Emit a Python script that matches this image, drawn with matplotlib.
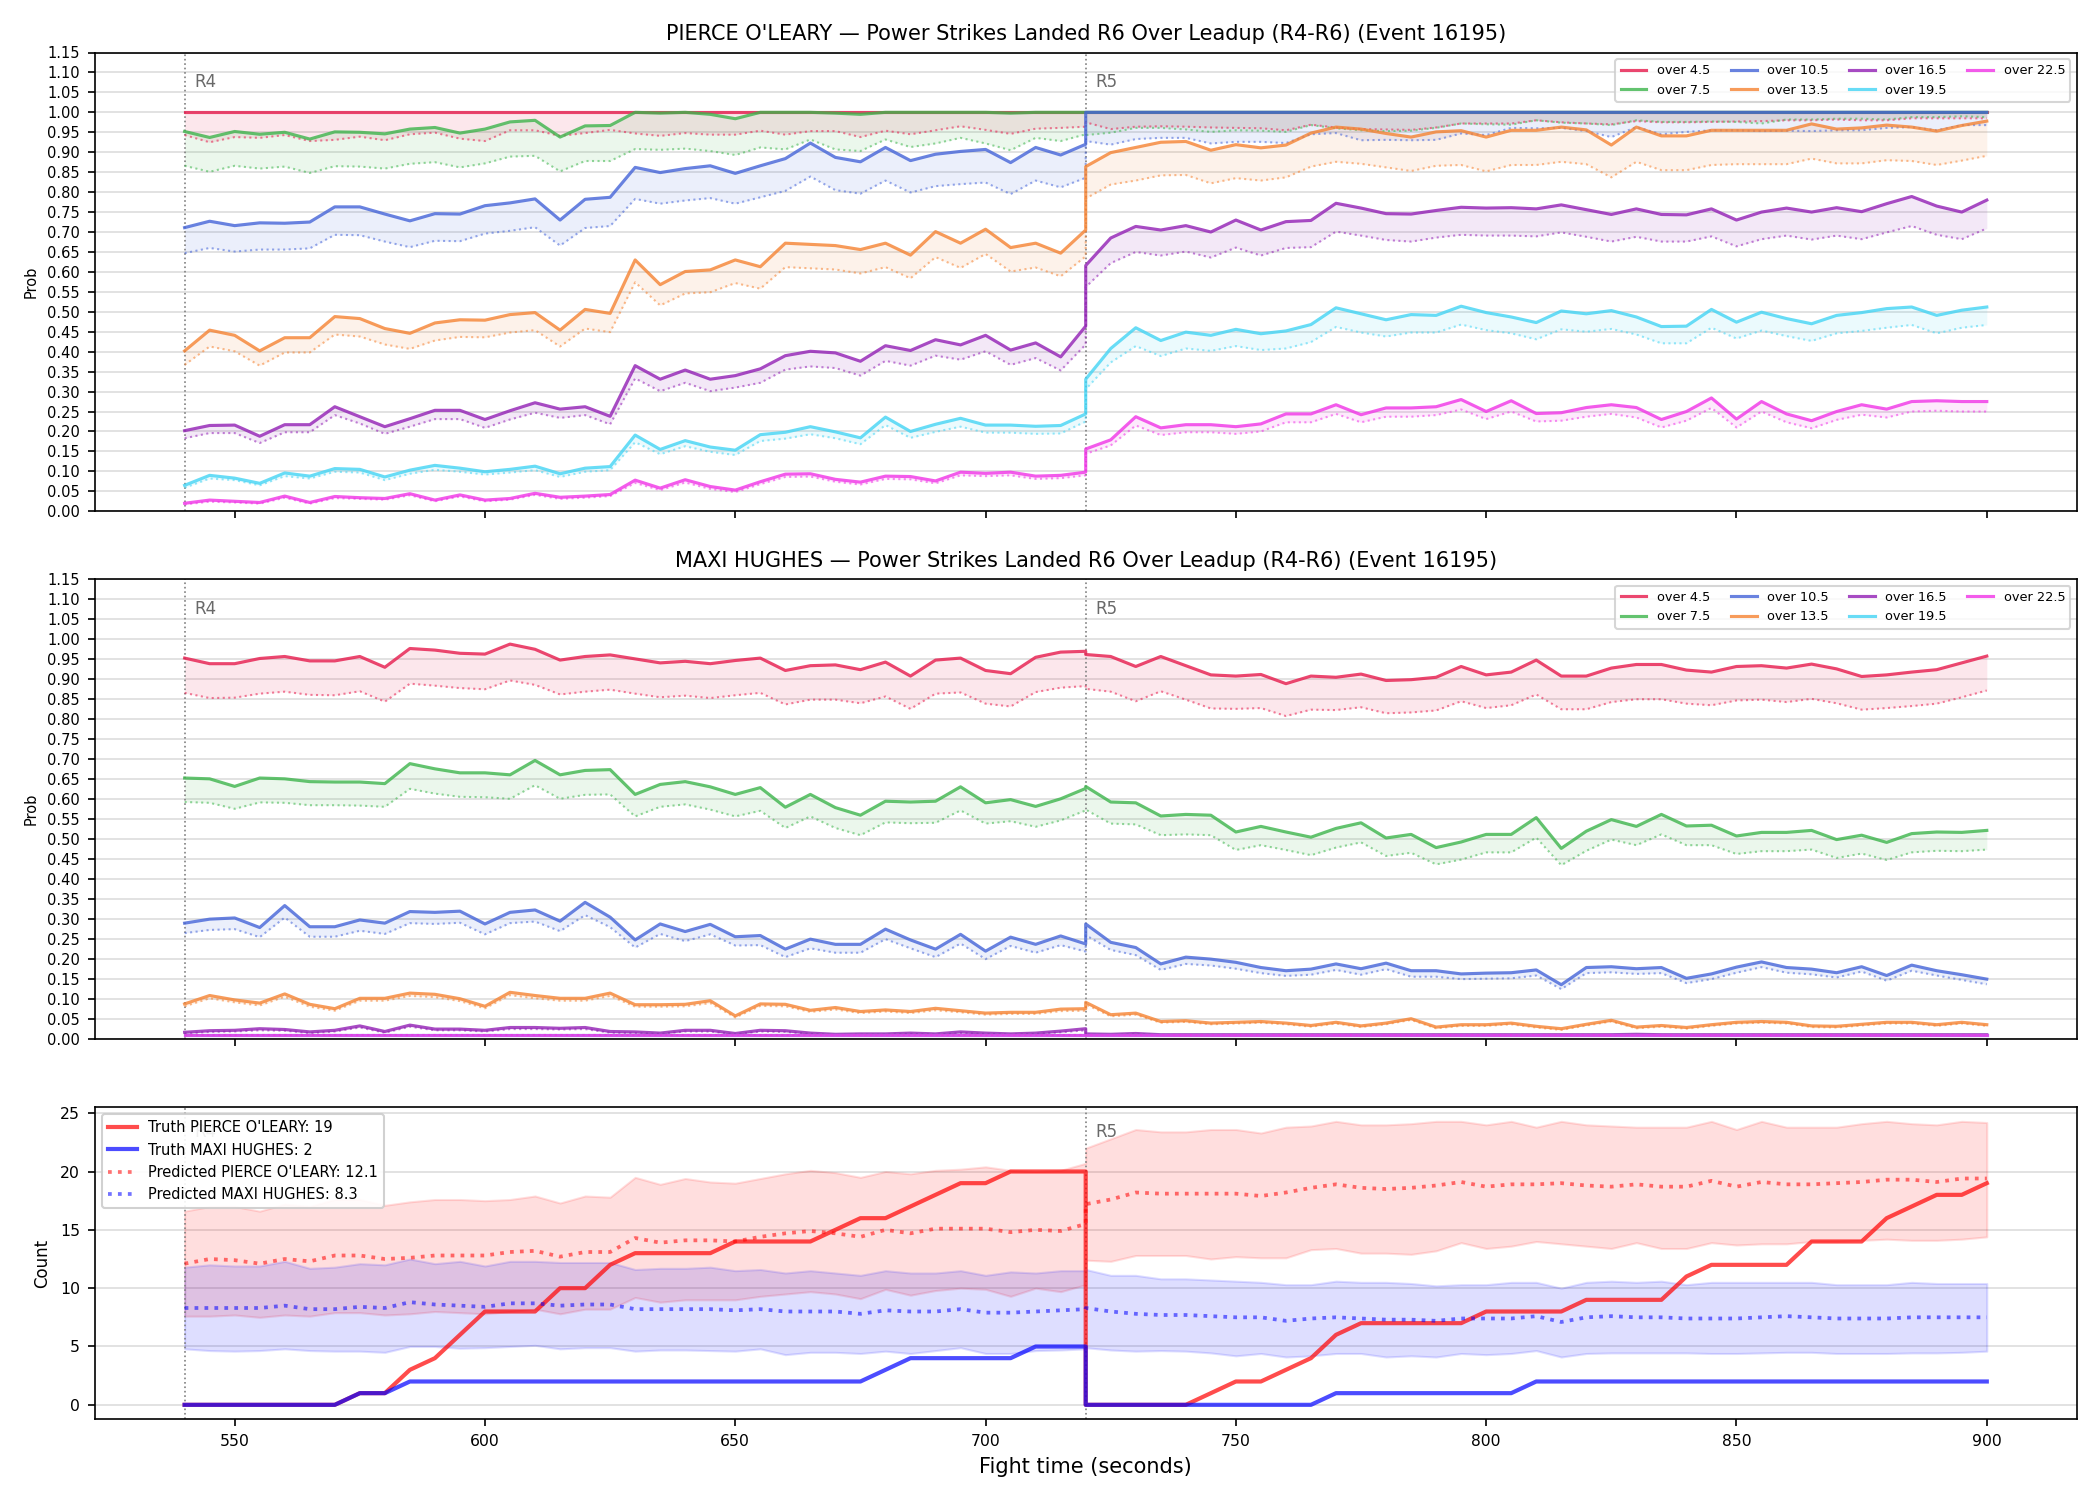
import numpy as np
import matplotlib
matplotlib.use("Agg")
import matplotlib.pyplot as plt

# fight time: round 4 (540-720) and round 5 (720-900), 720 appears twice
t = np.r_[np.arange(540, 721, 5), np.arange(720, 901, 5)]

THRESHOLDS = ["4.5", "7.5", "10.5", "13.5", "16.5", "19.5", "22.5"]
COLORS = ["#e6194B", "#3cb44b", "#4363d8", "#f58231", "#911eb4", "#42d4f4", "#f032e6"]

# ---- PIERCE O'LEARY: solid line (model) and dotted line (lower) per threshold
po_45 = [
    1.0, 1.0, 1.0, 1.0, 1.0, 1.0, 1.0, 1.0, 1.0, 1.0, 1.0, 1.0, 1.0, 1.0, 1.0, 1.0, 1.0, 1.0, 1.0,
    1.0, 1.0, 1.0, 1.0, 1.0, 1.0, 1.0, 1.0, 1.0, 1.0, 1.0, 1.0, 1.0, 1.0, 1.0, 1.0, 1.0, 1.0,
    1.0, 1.0, 1.0, 1.0, 1.0, 1.0, 1.0, 1.0, 1.0, 1.0, 1.0, 1.0, 1.0, 1.0, 1.0, 1.0, 1.0, 1.0, 1.0,
    1.0, 1.0, 1.0, 1.0, 1.0, 1.0, 1.0, 1.0, 1.0, 1.0, 1.0, 1.0, 1.0, 1.0, 1.0, 1.0, 1.0, 1.0]
po_45_lo = [
    0.943, 0.925, 0.938, 0.936, 0.943, 0.928, 0.931, 0.939, 0.930, 0.945, 0.949, 0.934, 0.928,
    0.955, 0.955, 0.941, 0.948, 0.956, 0.947, 0.941, 0.948, 0.944, 0.944, 0.954, 0.944, 0.953,
    0.953, 0.938, 0.954, 0.945, 0.955, 0.965, 0.956, 0.946, 0.959, 0.961, 0.964,
    0.975, 0.958, 0.964, 0.965, 0.964, 0.962, 0.961, 0.960, 0.955, 0.969, 0.962, 0.958, 0.957,
    0.956, 0.962, 0.972, 0.972, 0.972, 0.980, 0.975, 0.972, 0.970, 0.978, 0.975, 0.975, 0.976,
    0.977, 0.978, 0.980, 0.980, 0.982, 0.980, 0.980, 0.985, 0.985, 0.985, 0.985]
po_75 = [
    0.952, 0.937, 0.952, 0.945, 0.950, 0.933, 0.951, 0.950, 0.946, 0.958, 0.962, 0.948, 0.958,
    0.976, 0.980, 0.938, 0.966, 0.967, 1.000, 0.998, 1.000, 0.995, 0.984, 1.000, 1.000, 1.000,
    0.998, 0.995, 1.000, 1.000, 1.000, 1.000, 1.000, 0.998, 1.000, 1.000, 1.000,
    1.0, 1.0, 1.0, 1.0, 1.0, 1.0, 1.0, 1.0, 1.0, 1.0, 1.0, 1.0, 1.0, 1.0, 1.0, 1.0, 1.0, 1.0, 1.0,
    1.0, 1.0, 1.0, 1.0, 1.0, 1.0, 1.0, 1.0, 1.0, 1.0, 1.0, 1.0, 1.0, 1.0, 1.0, 1.0, 1.0, 1.0]
po_75_lo = [
    0.866, 0.851, 0.866, 0.859, 0.864, 0.848, 0.865, 0.864, 0.859, 0.871, 0.875, 0.862, 0.872,
    0.889, 0.891, 0.852, 0.878, 0.878, 0.908, 0.906, 0.909, 0.903, 0.893, 0.912, 0.907, 0.932,
    0.907, 0.903, 0.932, 0.913, 0.922, 0.936, 0.922, 0.905, 0.936, 0.928, 0.945,
    0.943, 0.949, 0.961, 0.961, 0.957, 0.951, 0.955, 0.954, 0.951, 0.968, 0.960, 0.955, 0.953,
    0.954, 0.961, 0.972, 0.970, 0.969, 0.980, 0.974, 0.972, 0.968, 0.980, 0.976, 0.976, 0.977,
    0.976, 0.972, 0.982, 0.982, 0.984, 0.984, 0.982, 0.988, 0.988, 0.990, 0.988]
po_105 = [
    0.711, 0.727, 0.716, 0.723, 0.722, 0.725, 0.763, 0.763, 0.745, 0.728, 0.746, 0.745, 0.766,
    0.773, 0.783, 0.730, 0.782, 0.787, 0.862, 0.849, 0.859, 0.866, 0.847, 0.866, 0.884, 0.923,
    0.887, 0.876, 0.912, 0.879, 0.895, 0.902, 0.907, 0.874, 0.912, 0.893, 0.920,
    1.0, 1.0, 1.0, 1.0, 1.0, 1.0, 1.0, 1.0, 1.0, 1.0, 1.0, 1.0, 1.0, 1.0, 1.0, 1.0, 1.0, 1.0, 1.0,
    1.0, 1.0, 1.0, 1.0, 1.0, 1.0, 1.0, 1.0, 1.0, 1.0, 1.0, 1.0, 1.0, 1.0, 1.0, 1.0, 1.0, 1.0]
po_105_lo = [
    0.647, 0.660, 0.651, 0.656, 0.656, 0.659, 0.693, 0.692, 0.676, 0.662, 0.678, 0.677, 0.696,
    0.703, 0.712, 0.666, 0.710, 0.715, 0.783, 0.771, 0.779, 0.785, 0.771, 0.787, 0.803, 0.839,
    0.805, 0.796, 0.829, 0.799, 0.815, 0.820, 0.824, 0.795, 0.829, 0.812, 0.836,
    0.928, 0.919, 0.933, 0.936, 0.936, 0.922, 0.926, 0.926, 0.923, 0.945, 0.948, 0.930, 0.931,
    0.930, 0.931, 0.947, 0.943, 0.961, 0.960, 0.961, 0.953, 0.938, 0.963, 0.945, 0.951, 0.955,
    0.955, 0.953, 0.954, 0.953, 0.955, 0.955, 0.961, 0.963, 0.955, 0.968, 0.968]
po_135 = [
    0.402, 0.454, 0.441, 0.402, 0.435, 0.435, 0.488, 0.483, 0.458, 0.446, 0.472, 0.480, 0.479,
    0.493, 0.498, 0.454, 0.506, 0.496, 0.630, 0.568, 0.601, 0.605, 0.630, 0.613, 0.672, 0.669,
    0.666, 0.656, 0.672, 0.642, 0.701, 0.672, 0.707, 0.661, 0.672, 0.647, 0.705,
    0.864, 0.899, 0.912, 0.925, 0.927, 0.905, 0.919, 0.911, 0.918, 0.948, 0.963, 0.958, 0.947,
    0.938, 0.951, 0.954, 0.938, 0.955, 0.955, 0.963, 0.956, 0.918, 0.963, 0.941, 0.941, 0.955,
    0.955, 0.955, 0.955, 0.971, 0.958, 0.961, 0.968, 0.963, 0.953, 0.967, 0.978]
po_135_lo = [
    0.367, 0.413, 0.401, 0.365, 0.398, 0.398, 0.443, 0.438, 0.418, 0.407, 0.428, 0.437, 0.436,
    0.448, 0.454, 0.413, 0.458, 0.449, 0.574, 0.516, 0.546, 0.549, 0.572, 0.558, 0.612, 0.609,
    0.606, 0.596, 0.612, 0.584, 0.637, 0.610, 0.645, 0.601, 0.611, 0.589, 0.639,
    0.784, 0.819, 0.829, 0.842, 0.843, 0.822, 0.835, 0.829, 0.837, 0.864, 0.876, 0.871, 0.862,
    0.853, 0.866, 0.868, 0.852, 0.868, 0.868, 0.876, 0.870, 0.837, 0.876, 0.855, 0.855, 0.868,
    0.870, 0.870, 0.870, 0.884, 0.872, 0.872, 0.880, 0.878, 0.868, 0.879, 0.891]
po_165 = [
    0.202, 0.215, 0.216, 0.188, 0.217, 0.217, 0.262, 0.237, 0.212, 0.232, 0.253, 0.253, 0.230,
    0.252, 0.272, 0.256, 0.262, 0.238, 0.365, 0.331, 0.354, 0.331, 0.340, 0.357, 0.390, 0.401,
    0.397, 0.376, 0.415, 0.403, 0.430, 0.417, 0.441, 0.404, 0.422, 0.387, 0.464,
    0.616, 0.685, 0.714, 0.705, 0.716, 0.700, 0.730, 0.705, 0.726, 0.729, 0.772, 0.760, 0.746,
    0.745, 0.754, 0.762, 0.760, 0.761, 0.758, 0.768, 0.756, 0.744, 0.758, 0.744, 0.743, 0.758,
    0.730, 0.750, 0.760, 0.750, 0.761, 0.751, 0.771, 0.789, 0.765, 0.750, 0.780]
po_165_lo = [
    0.183, 0.196, 0.196, 0.171, 0.198, 0.198, 0.241, 0.220, 0.194, 0.212, 0.231, 0.231, 0.209,
    0.230, 0.247, 0.234, 0.241, 0.218, 0.333, 0.301, 0.322, 0.301, 0.310, 0.322, 0.355, 0.363,
    0.359, 0.340, 0.377, 0.365, 0.390, 0.380, 0.401, 0.367, 0.384, 0.353, 0.418,
    0.562, 0.622, 0.650, 0.641, 0.651, 0.636, 0.661, 0.641, 0.660, 0.662, 0.701, 0.691, 0.680,
    0.676, 0.686, 0.693, 0.691, 0.691, 0.689, 0.699, 0.688, 0.676, 0.688, 0.676, 0.676, 0.689,
    0.664, 0.682, 0.691, 0.681, 0.691, 0.682, 0.699, 0.715, 0.693, 0.682, 0.709]
po_195 = [
    0.065, 0.090, 0.083, 0.070, 0.096, 0.088, 0.107, 0.105, 0.086, 0.103, 0.115, 0.108, 0.099,
    0.105, 0.113, 0.094, 0.108, 0.112, 0.191, 0.155, 0.177, 0.161, 0.153, 0.192, 0.198, 0.212,
    0.199, 0.184, 0.236, 0.200, 0.218, 0.233, 0.216, 0.216, 0.213, 0.215, 0.244,
    0.331, 0.408, 0.460, 0.428, 0.449, 0.441, 0.456, 0.445, 0.452, 0.468, 0.510, 0.495, 0.480,
    0.493, 0.491, 0.514, 0.498, 0.487, 0.473, 0.502, 0.495, 0.503, 0.487, 0.463, 0.464, 0.506,
    0.474, 0.499, 0.483, 0.470, 0.491, 0.498, 0.508, 0.512, 0.491, 0.504, 0.512]
po_195_lo = [
    0.059, 0.082, 0.078, 0.065, 0.088, 0.082, 0.099, 0.097, 0.078, 0.094, 0.104, 0.099, 0.092,
    0.097, 0.103, 0.086, 0.099, 0.103, 0.173, 0.143, 0.163, 0.149, 0.141, 0.176, 0.182, 0.193,
    0.183, 0.168, 0.216, 0.184, 0.199, 0.212, 0.197, 0.197, 0.194, 0.195, 0.225,
    0.306, 0.373, 0.414, 0.389, 0.408, 0.402, 0.414, 0.404, 0.408, 0.424, 0.462, 0.448, 0.438,
    0.448, 0.448, 0.468, 0.454, 0.446, 0.431, 0.456, 0.450, 0.457, 0.443, 0.421, 0.421, 0.460,
    0.433, 0.453, 0.439, 0.427, 0.446, 0.452, 0.460, 0.467, 0.446, 0.460, 0.467]
po_225 = [
    0.020, 0.028, 0.025, 0.022, 0.038, 0.022, 0.037, 0.034, 0.032, 0.044, 0.028, 0.041, 0.028,
    0.032, 0.045, 0.035, 0.038, 0.042, 0.078, 0.058, 0.079, 0.062, 0.053, 0.074, 0.093, 0.094,
    0.080, 0.073, 0.088, 0.087, 0.076, 0.098, 0.095, 0.098, 0.088, 0.090, 0.098,
    0.156, 0.179, 0.237, 0.209, 0.217, 0.217, 0.212, 0.219, 0.244, 0.244, 0.267, 0.242, 0.259,
    0.259, 0.262, 0.280, 0.250, 0.277, 0.245, 0.247, 0.260, 0.267, 0.260, 0.230, 0.250, 0.284,
    0.231, 0.275, 0.244, 0.227, 0.250, 0.267, 0.256, 0.275, 0.277, 0.275, 0.275]
po_225_lo = [
    0.017, 0.024, 0.022, 0.019, 0.034, 0.019, 0.033, 0.031, 0.029, 0.040, 0.025, 0.037, 0.025,
    0.029, 0.041, 0.031, 0.034, 0.038, 0.071, 0.053, 0.072, 0.056, 0.048, 0.068, 0.086, 0.087,
    0.074, 0.067, 0.081, 0.080, 0.070, 0.090, 0.088, 0.090, 0.081, 0.083, 0.090,
    0.144, 0.165, 0.215, 0.191, 0.198, 0.198, 0.194, 0.200, 0.223, 0.223, 0.244, 0.223, 0.237,
    0.237, 0.241, 0.255, 0.231, 0.250, 0.225, 0.227, 0.237, 0.244, 0.235, 0.210, 0.227, 0.259,
    0.210, 0.250, 0.223, 0.208, 0.229, 0.242, 0.235, 0.250, 0.252, 0.250, 0.250]

# ---- MAXI HUGHES
mh_45 = [
    0.953, 0.939, 0.939, 0.952, 0.957, 0.946, 0.946, 0.957, 0.930, 0.977, 0.973, 0.965, 0.963,
    0.988, 0.975, 0.948, 0.957, 0.961, 0.951, 0.941, 0.945, 0.939, 0.947, 0.953, 0.922, 0.934,
    0.936, 0.924, 0.943, 0.908, 0.948, 0.953, 0.922, 0.914, 0.955, 0.968, 0.970,
    0.962, 0.957, 0.932, 0.957, 0.934, 0.911, 0.908, 0.912, 0.889, 0.908, 0.905, 0.913, 0.897,
    0.899, 0.905, 0.932, 0.911, 0.918, 0.948, 0.908, 0.908, 0.928, 0.937, 0.937, 0.923, 0.918,
    0.932, 0.934, 0.928, 0.938, 0.926, 0.907, 0.911, 0.918, 0.924, 0.941, 0.958]
mh_45_lo = [
    0.866, 0.853, 0.854, 0.864, 0.869, 0.861, 0.860, 0.870, 0.844, 0.889, 0.884, 0.878, 0.875,
    0.897, 0.886, 0.862, 0.869, 0.874, 0.864, 0.855, 0.859, 0.853, 0.860, 0.866, 0.837, 0.849,
    0.849, 0.840, 0.857, 0.826, 0.864, 0.867, 0.839, 0.832, 0.868, 0.879, 0.883,
    0.876, 0.869, 0.845, 0.870, 0.849, 0.827, 0.826, 0.828, 0.808, 0.824, 0.823, 0.830, 0.815,
    0.817, 0.822, 0.845, 0.828, 0.835, 0.862, 0.825, 0.825, 0.843, 0.850, 0.850, 0.839, 0.835,
    0.847, 0.849, 0.843, 0.851, 0.840, 0.824, 0.828, 0.833, 0.839, 0.855, 0.872]
mh_75 = [
    0.653, 0.651, 0.632, 0.653, 0.651, 0.644, 0.643, 0.643, 0.639, 0.689, 0.676, 0.666, 0.666,
    0.661, 0.697, 0.661, 0.672, 0.674, 0.612, 0.637, 0.644, 0.631, 0.612, 0.629, 0.580, 0.612,
    0.579, 0.560, 0.595, 0.593, 0.595, 0.631, 0.591, 0.599, 0.582, 0.601, 0.627,
    0.632, 0.593, 0.591, 0.558, 0.562, 0.560, 0.518, 0.532, 0.518, 0.505, 0.527, 0.541, 0.503,
    0.512, 0.479, 0.493, 0.512, 0.512, 0.554, 0.477, 0.520, 0.549, 0.532, 0.562, 0.533, 0.535,
    0.508, 0.517, 0.517, 0.522, 0.499, 0.510, 0.492, 0.514, 0.518, 0.517, 0.522]
mh_75_lo = [
    0.593, 0.591, 0.576, 0.592, 0.591, 0.585, 0.585, 0.584, 0.581, 0.626, 0.614, 0.606, 0.605,
    0.601, 0.635, 0.601, 0.611, 0.612, 0.557, 0.581, 0.587, 0.574, 0.557, 0.571, 0.528, 0.557,
    0.528, 0.510, 0.542, 0.540, 0.541, 0.572, 0.539, 0.545, 0.531, 0.547, 0.572,
    0.574, 0.539, 0.537, 0.510, 0.512, 0.510, 0.473, 0.485, 0.473, 0.460, 0.479, 0.492, 0.458,
    0.466, 0.437, 0.449, 0.467, 0.467, 0.504, 0.435, 0.471, 0.499, 0.485, 0.512, 0.485, 0.485,
    0.463, 0.470, 0.470, 0.474, 0.453, 0.464, 0.448, 0.467, 0.471, 0.470, 0.474]
mh_105 = [
    0.290, 0.300, 0.303, 0.279, 0.334, 0.281, 0.281, 0.298, 0.290, 0.319, 0.317, 0.320, 0.288,
    0.317, 0.323, 0.295, 0.342, 0.305, 0.248, 0.288, 0.269, 0.287, 0.256, 0.259, 0.225, 0.250,
    0.237, 0.237, 0.275, 0.248, 0.225, 0.262, 0.220, 0.255, 0.237, 0.258, 0.238,
    0.288, 0.242, 0.229, 0.188, 0.205, 0.200, 0.192, 0.179, 0.171, 0.175, 0.188, 0.176, 0.190,
    0.171, 0.171, 0.163, 0.165, 0.166, 0.173, 0.136, 0.179, 0.181, 0.176, 0.179, 0.152, 0.163,
    0.180, 0.193, 0.179, 0.175, 0.166, 0.181, 0.159, 0.185, 0.171, 0.161, 0.150]
mh_105_lo = [
    0.265, 0.273, 0.275, 0.255, 0.304, 0.256, 0.256, 0.271, 0.263, 0.290, 0.288, 0.291, 0.262,
    0.290, 0.294, 0.270, 0.310, 0.280, 0.229, 0.263, 0.245, 0.262, 0.234, 0.235, 0.205, 0.227,
    0.216, 0.216, 0.250, 0.227, 0.205, 0.239, 0.200, 0.233, 0.216, 0.235, 0.219,
    0.260, 0.223, 0.210, 0.173, 0.188, 0.184, 0.176, 0.165, 0.158, 0.161, 0.173, 0.161, 0.175,
    0.156, 0.156, 0.150, 0.151, 0.152, 0.159, 0.125, 0.165, 0.167, 0.163, 0.165, 0.140, 0.150,
    0.166, 0.180, 0.166, 0.162, 0.154, 0.169, 0.146, 0.171, 0.159, 0.148, 0.137]
mh_135 = [
    0.088, 0.109, 0.098, 0.090, 0.113, 0.087, 0.076, 0.102, 0.102, 0.115, 0.112, 0.101, 0.082,
    0.117, 0.109, 0.102, 0.102, 0.115, 0.086, 0.086, 0.087, 0.096, 0.058, 0.088, 0.087, 0.072,
    0.079, 0.069, 0.073, 0.069, 0.077, 0.071, 0.065, 0.067, 0.067, 0.075, 0.076,
    0.092, 0.061, 0.065, 0.044, 0.046, 0.040, 0.042, 0.044, 0.040, 0.034, 0.042, 0.033, 0.040,
    0.051, 0.030, 0.036, 0.036, 0.040, 0.032, 0.026, 0.037, 0.047, 0.030, 0.034, 0.029, 0.036,
    0.042, 0.044, 0.042, 0.033, 0.032, 0.037, 0.042, 0.042, 0.036, 0.042, 0.036]
mh_135_lo = [
    0.082, 0.102, 0.092, 0.084, 0.106, 0.081, 0.071, 0.096, 0.096, 0.108, 0.105, 0.095, 0.077,
    0.110, 0.102, 0.096, 0.096, 0.108, 0.081, 0.081, 0.082, 0.090, 0.054, 0.083, 0.082, 0.068,
    0.074, 0.065, 0.069, 0.065, 0.072, 0.067, 0.061, 0.063, 0.063, 0.070, 0.071,
    0.087, 0.057, 0.061, 0.041, 0.043, 0.037, 0.039, 0.041, 0.037, 0.031, 0.039, 0.030, 0.037,
    0.048, 0.027, 0.033, 0.033, 0.037, 0.029, 0.023, 0.034, 0.044, 0.027, 0.031, 0.026, 0.033,
    0.039, 0.041, 0.039, 0.030, 0.029, 0.034, 0.039, 0.039, 0.033, 0.039, 0.033]
mh_165 = [
    0.017, 0.021, 0.022, 0.026, 0.024, 0.018, 0.022, 0.033, 0.019, 0.035, 0.025, 0.025, 0.022,
    0.029, 0.029, 0.027, 0.029, 0.019, 0.018, 0.015, 0.022, 0.022, 0.014, 0.022, 0.021, 0.015,
    0.012, 0.013, 0.013, 0.015, 0.013, 0.018, 0.015, 0.013, 0.015, 0.020, 0.026,
    0.013, 0.012, 0.014, 0.011, 0.011, 0.011, 0.011, 0.011, 0.011, 0.011, 0.011, 0.011, 0.011,
    0.011, 0.011, 0.011, 0.011, 0.011, 0.011, 0.011, 0.011, 0.011, 0.012, 0.011, 0.011, 0.011,
    0.011, 0.011, 0.011, 0.011, 0.011, 0.011, 0.011, 0.011, 0.011, 0.011, 0.011]
mh_165_lo = [
    0.014, 0.018, 0.019, 0.022, 0.021, 0.015, 0.019, 0.029, 0.016, 0.031, 0.022, 0.022, 0.019,
    0.025, 0.025, 0.024, 0.025, 0.016, 0.015, 0.013, 0.019, 0.019, 0.012, 0.019, 0.018, 0.013,
    0.010, 0.011, 0.011, 0.013, 0.011, 0.015, 0.013, 0.011, 0.013, 0.017, 0.022,
    0.011, 0.010, 0.012, 0.010, 0.010, 0.010, 0.010, 0.010, 0.010, 0.010, 0.010, 0.010, 0.010,
    0.010, 0.010, 0.010, 0.010, 0.010, 0.010, 0.010, 0.010, 0.010, 0.010, 0.010, 0.010, 0.010,
    0.010, 0.010, 0.010, 0.010, 0.010, 0.010, 0.010, 0.010, 0.010, 0.010, 0.010]
mh_195 = [
    0.011, 0.011, 0.011, 0.011, 0.011, 0.011, 0.011, 0.011, 0.011, 0.011, 0.011, 0.011, 0.011,
    0.011, 0.011, 0.011, 0.011, 0.011, 0.011, 0.011, 0.011, 0.011, 0.011, 0.011, 0.011, 0.011,
    0.011, 0.011, 0.011, 0.011, 0.011, 0.011, 0.011, 0.011, 0.011, 0.011, 0.011,
    0.011, 0.011, 0.011, 0.011, 0.011, 0.011, 0.011, 0.011, 0.011, 0.011, 0.011, 0.011, 0.011,
    0.011, 0.011, 0.011, 0.011, 0.011, 0.011, 0.011, 0.011, 0.011, 0.011, 0.011, 0.011, 0.011,
    0.011, 0.011, 0.011, 0.011, 0.011, 0.011, 0.011, 0.011, 0.011, 0.011, 0.011]
mh_195_lo = [
    0.009, 0.009, 0.009, 0.009, 0.009, 0.009, 0.009, 0.009, 0.009, 0.009, 0.009, 0.009, 0.009,
    0.009, 0.009, 0.009, 0.009, 0.009, 0.009, 0.009, 0.009, 0.009, 0.009, 0.009, 0.009, 0.009,
    0.009, 0.009, 0.009, 0.009, 0.009, 0.009, 0.009, 0.009, 0.009, 0.009, 0.009,
    0.009, 0.009, 0.009, 0.009, 0.009, 0.009, 0.009, 0.009, 0.009, 0.009, 0.009, 0.009, 0.009,
    0.009, 0.009, 0.009, 0.009, 0.009, 0.009, 0.009, 0.009, 0.009, 0.009, 0.009, 0.009, 0.009,
    0.009, 0.009, 0.009, 0.009, 0.009, 0.009, 0.009, 0.009, 0.009, 0.009, 0.009]
mh_225 = [
    0.010, 0.010, 0.010, 0.010, 0.010, 0.010, 0.010, 0.010, 0.010, 0.010, 0.010, 0.010, 0.010,
    0.010, 0.010, 0.010, 0.010, 0.010, 0.010, 0.010, 0.010, 0.010, 0.010, 0.010, 0.010, 0.010,
    0.010, 0.010, 0.010, 0.010, 0.010, 0.010, 0.010, 0.010, 0.010, 0.010, 0.010,
    0.010, 0.010, 0.010, 0.010, 0.010, 0.010, 0.010, 0.010, 0.010, 0.010, 0.010, 0.010, 0.010,
    0.010, 0.010, 0.010, 0.010, 0.010, 0.010, 0.010, 0.010, 0.010, 0.010, 0.010, 0.010, 0.010,
    0.010, 0.010, 0.010, 0.010, 0.010, 0.010, 0.010, 0.010, 0.010, 0.010, 0.010]
mh_225_lo = mh_195_lo

# ---- counts panel
truth_po = [
    0, 0, 0, 0, 0, 0, 0, 1, 1, 3, 4, 6, 8, 8, 8, 10, 10, 12, 13, 13, 13, 13, 14, 14, 14, 14,
    15, 16, 16, 17, 18, 19, 19, 20, 20, 20, 20,
    0, 0, 0, 0, 0, 1, 2, 2, 3, 4, 6, 7, 7, 7, 7, 7, 8, 8, 8, 8, 9, 9, 9, 9, 11, 12, 12, 12,
    12, 14, 14, 14, 16, 17, 18, 18, 19]
truth_mh = [
    0, 0, 0, 0, 0, 0, 0, 1, 1, 2, 2, 2, 2, 2, 2, 2, 2, 2, 2, 2, 2, 2, 2, 2, 2, 2, 2, 2, 3, 4,
    4, 4, 4, 4, 5, 5, 5,
    0, 0, 0, 0, 0, 0, 0, 0, 0, 0, 1, 1, 1, 1, 1, 1, 1, 1, 2, 2, 2, 2, 2, 2, 2, 2, 2, 2, 2, 2,
    2, 2, 2, 2, 2, 2, 2]
pred_po = [
    12.1, 12.5, 12.4, 12.1, 12.5, 12.3, 12.8, 12.8, 12.5, 12.6, 12.8, 12.8, 12.8, 13.1, 13.2,
    12.7, 13.1, 13.1, 14.3, 13.9, 14.1, 14.1, 14.0, 14.4, 14.7, 14.9, 14.7, 14.4, 15.0, 14.7,
    15.1, 15.1, 15.1, 14.8, 15.0, 14.9, 15.5,
    17.2, 17.6, 18.2, 18.1, 18.1, 18.1, 18.1, 17.9, 18.2, 18.6, 18.9, 18.6, 18.5, 18.6, 18.8,
    19.1, 18.7, 18.9, 18.9, 19.0, 18.8, 18.7, 18.9, 18.7, 18.7, 19.2, 18.7, 19.1, 18.9, 18.9,
    19.0, 19.1, 19.3, 19.3, 19.1, 19.4, 19.4]
pred_po_hi = [
    16.6, 17.0, 17.0, 16.6, 17.2, 17.0, 17.6, 17.6, 17.1, 17.4, 17.6, 17.6, 17.5, 17.6, 17.9,
    17.3, 17.9, 17.8, 19.5, 18.9, 19.4, 19.1, 19.0, 19.4, 19.8, 20.1, 19.9, 19.5, 20.0, 19.8,
    20.1, 20.2, 20.4, 20.1, 20.0, 20.1, 20.7,
    22.0, 22.8, 23.6, 23.4, 23.4, 23.6, 23.6, 23.3, 23.8, 23.9, 24.3, 24.0, 24.0, 24.1, 24.3,
    24.3, 24.0, 24.3, 23.8, 24.3, 24.0, 23.9, 23.8, 23.8, 23.8, 24.3, 23.6, 24.3, 23.8, 23.8,
    23.8, 24.1, 24.3, 24.1, 24.0, 24.3, 24.2]
pred_po_lo = [
    7.6, 7.6, 7.7, 7.5, 7.7, 7.6, 7.9, 7.9, 7.7, 7.8, 8.0, 7.9, 7.8, 8.0, 8.2, 7.8, 8.2, 8.2,
    9.2, 8.8, 9.0, 9.0, 9.0, 9.3, 9.5, 9.7, 9.5, 9.1, 9.9, 9.4, 9.8, 10.0, 9.9, 9.3, 10.0,
    9.7, 10.3,
    12.4, 12.3, 12.8, 12.8, 12.8, 12.5, 12.7, 12.6, 12.6, 13.3, 13.4, 13.0, 13.0, 12.9, 13.2,
    13.9, 13.4, 13.6, 14.0, 13.8, 13.6, 13.4, 13.9, 13.4, 13.4, 13.9, 13.7, 13.8, 13.8, 14.0,
    14.0, 14.1, 14.2, 14.1, 14.1, 14.2, 14.4]
pred_mh = [
    8.3, 8.3, 8.3, 8.3, 8.5, 8.2, 8.2, 8.4, 8.3, 8.8, 8.6, 8.5, 8.4, 8.7, 8.7, 8.5, 8.6, 8.6,
    8.2, 8.2, 8.2, 8.2, 8.1, 8.2, 8.0, 8.0, 8.0, 7.8, 8.1, 8.0, 8.0, 8.2, 7.9, 7.9, 8.0, 8.1,
    8.2,
    8.3, 8.0, 7.8, 7.7, 7.7, 7.6, 7.5, 7.5, 7.2, 7.4, 7.5, 7.4, 7.3, 7.3, 7.2, 7.4, 7.4, 7.4,
    7.6, 7.1, 7.5, 7.6, 7.5, 7.5, 7.4, 7.4, 7.4, 7.5, 7.6, 7.5, 7.4, 7.4, 7.4, 7.5, 7.5, 7.5,
    7.5]
pred_mh_hi = [
    11.8, 12.0, 11.9, 11.9, 12.3, 11.7, 11.8, 12.1, 12.0, 12.5, 12.1, 12.3, 11.9, 12.3, 12.3,
    12.2, 12.2, 12.2, 11.6, 11.7, 11.7, 11.8, 11.5, 11.6, 11.3, 11.5, 11.3, 11.1, 11.5, 11.3,
    11.3, 11.5, 11.1, 11.4, 11.3, 11.5, 11.5,
    11.6, 11.1, 11.1, 10.8, 10.8, 10.7, 10.6, 10.5, 10.3, 10.3, 10.6, 10.5, 10.5, 10.4, 10.2,
    10.3, 10.3, 10.5, 10.5, 10.0, 10.5, 10.6, 10.5, 10.6, 10.3, 10.5, 10.5, 10.5, 10.5, 10.5,
    10.3, 10.3, 10.3, 10.5, 10.4, 10.4, 10.4]
pred_mh_lo = [
    4.8, 4.65, 4.6, 4.65, 4.8, 4.65, 4.6, 4.6, 4.5, 5.0, 5.0, 4.85, 4.9, 5.0, 5.1, 4.8, 4.9,
    4.9, 4.6, 4.7, 4.7, 4.65, 4.6, 4.8, 4.3, 4.5, 4.5, 4.4, 4.6, 4.4, 4.65, 4.9, 4.4, 4.4,
    4.65, 4.7, 4.8,
    4.9, 4.7, 4.6, 4.65, 4.6, 4.45, 4.2, 4.4, 4.1, 4.2, 4.4, 4.4, 4.1, 4.2, 4.1, 4.4, 4.3,
    4.4, 4.65, 4.1, 4.4, 4.45, 4.45, 4.45, 4.45, 4.4, 4.4, 4.45, 4.5, 4.5, 4.4, 4.4, 4.4,
    4.45, 4.45, 4.5, 4.6]

PO_SERIES = [(po_45, po_45_lo), (po_75, po_75_lo), (po_105, po_105_lo), (po_135, po_135_lo),
             (po_165, po_165_lo), (po_195, po_195_lo), (po_225, po_225_lo)]
MH_SERIES = [(mh_45, mh_45_lo), (mh_75, mh_75_lo), (mh_105, mh_105_lo), (mh_135, mh_135_lo),
             (mh_165, mh_165_lo), (mh_195, mh_195_lo), (mh_225, mh_225_lo)]

EVENT = "Power Strikes Landed R6 Over Leadup (R4-R6) (Event 16195)"
ROUND_STARTS = [(540, "R4"), (720, "R5")]


def mark_rounds(ax, text_y=0.935):
    for x, name in ROUND_STARTS:
        ax.axvline(x, color="gray", ls=":", lw=0.8, zorder=1)
        ax.text(x + 2, text_y, name, color="dimgray", fontsize=8, va="center",
                transform=ax.get_xaxis_transform())


def draw_prob_panel(ax, series, title):
    for thr, color, (hi, lo) in zip(THRESHOLDS, COLORS, series):
        assert len(hi) == len(t) and len(lo) == len(t)
        ax.fill_between(t, lo, hi, color=color, alpha=0.1, linewidth=0)
        ax.plot(t, hi, color=color, lw=1.5, alpha=0.8, label=f"over {thr}")
        ax.plot(t, lo, color=color, lw=1.0, alpha=0.55, ls=":")
    ax.set_ylim(0, 1.15)
    ax.set_yticks(np.arange(0, 1.151, 0.05))
    ax.tick_params(labelsize=7)
    ax.set_ylabel("Prob", fontsize=7)
    ax.set_title(title, fontsize=10)
    ax.grid(axis="y", color="#dddddd", lw=0.8)
    ax.set_axisbelow(True)
    mark_rounds(ax)
    ax.legend(loc="upper right", ncol=4, fontsize=6.2, columnspacing=1.6, framealpha=0.8)


fig = plt.figure(figsize=(14, 10), dpi=150)
gs = fig.add_gridspec(3, 1, height_ratios=[459, 460, 312], hspace=0.166,
                      left=0.045, right=0.989, top=0.965, bottom=0.054)
ax1 = fig.add_subplot(gs[0])
ax2 = fig.add_subplot(gs[1], sharex=ax1)
ax3 = fig.add_subplot(gs[2], sharex=ax1)

draw_prob_panel(ax1, PO_SERIES, f"PIERCE O'LEARY \u2014 {EVENT}")
draw_prob_panel(ax2, MH_SERIES, f"MAXI HUGHES \u2014 {EVENT}")
plt.setp(ax1.get_xticklabels(), visible=False)
plt.setp(ax2.get_xticklabels(), visible=False)

# counts panel
ax3.fill_between(t, pred_po_lo, pred_po_hi, color="red", alpha=0.13)
ax3.fill_between(t, pred_mh_lo, pred_mh_hi, color="blue", alpha=0.13)
ax3.plot(t, truth_po, color="red", lw=2, alpha=0.7, label=f"Truth PIERCE O'LEARY: {truth_po[-1]}")
ax3.plot(t, truth_mh, color="blue", lw=2, alpha=0.7, label=f"Truth MAXI HUGHES: {truth_mh[-1]}")
ax3.plot(t, pred_po, color="red", lw=1.8, alpha=0.55, ls=":",
         label=f"Predicted PIERCE O'LEARY: {pred_po[0]:.1f}")
ax3.plot(t, pred_mh, color="blue", lw=1.8, alpha=0.55, ls=":",
         label=f"Predicted MAXI HUGHES: {pred_mh[0]:.1f}")
mark_rounds(ax3, text_y=0.92)
ax3.grid(axis="y", color="#dddddd", lw=0.8)
ax3.set_axisbelow(True)
ax3.tick_params(labelsize=7.5)
ax3.set_ylabel("Count", fontsize=8)
ax3.set_xlabel("Fight time (seconds)", fontsize=10)
ax3.legend(loc="upper left", fontsize=7, framealpha=0.9)

fig.savefig("out.png", dpi=150)
